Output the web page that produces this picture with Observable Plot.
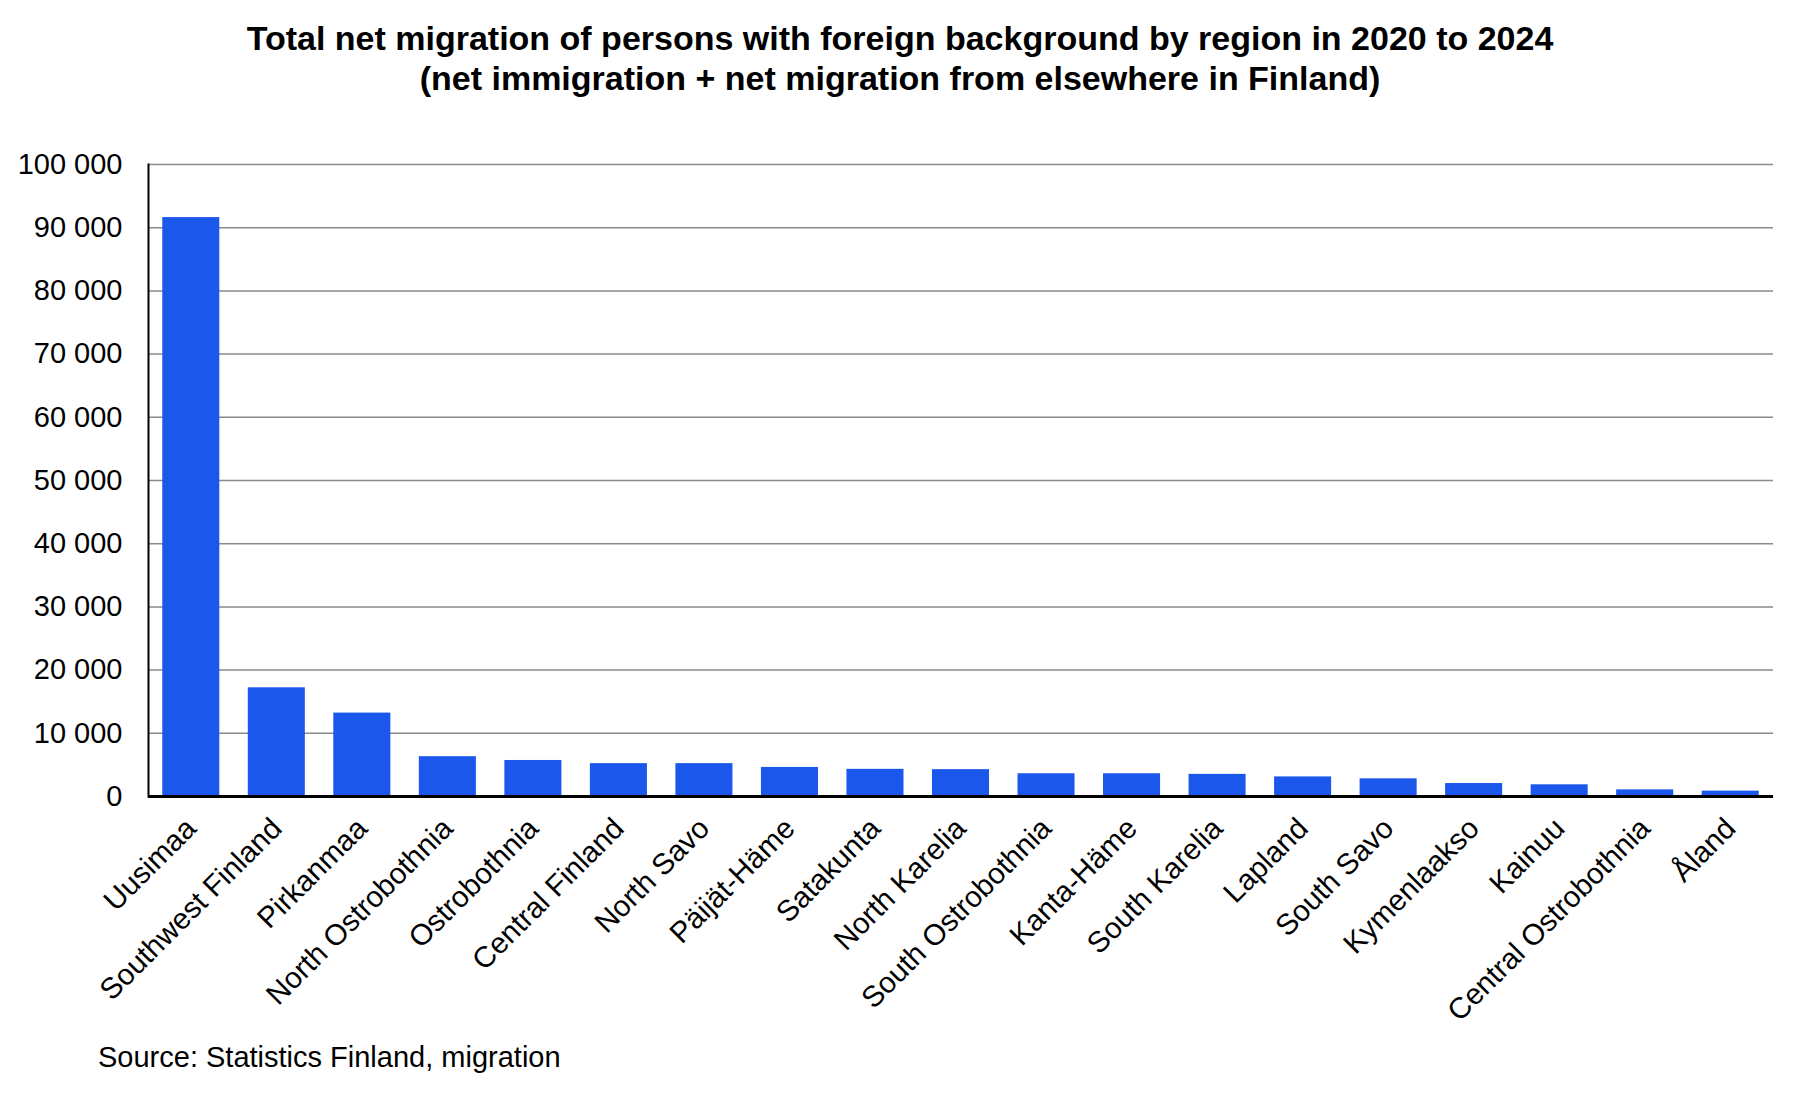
<!DOCTYPE html>
<html>
<head>
<meta charset="utf-8">
<script src="https://cdn.jsdelivr.net/npm/d3@7"></script>
<script src="https://cdn.jsdelivr.net/npm/@observablehq/plot@0.6"></script>
<style>
  html, body { margin: 0; padding: 0; background: #fff; }
  body { width: 1800px; font-family: "Liberation Sans", Arial, sans-serif; color: #000; }
  #title { height: 100px; box-sizing: border-box; padding-top: 18px; text-align: center; font-weight: bold; font-size: 34px; line-height: 40px; }
  #source { margin-top: 0px; padding-left: 98px; font-size: 29px; line-height: 34px; }
</style>
</head>
<body>
<div id="title">Total net migration of persons with foreign background by region in 2020 to 2024<br>(net immigration + net migration from elsewhere in Finland)</div>
<div id="chart"></div>
<div id="source">Source: Statistics Finland, migration</div>
<script>
const regions = ["Uusimaa","Southwest Finland","Pirkanmaa","North Ostrobothnia","Ostrobothnia","Central Finland","North Savo","Päijät-Häme","Satakunta","North Karelia","South Ostrobothnia","Kanta-Häme","South Karelia","Lapland","South Savo","Kymenlaakso","Kainuu","Central Ostrobothnia","Åland"];
const values = [91600,17200,13200,6300,5700,5200,5200,4600,4300,4250,3600,3600,3500,3100,2800,2050,1850,1050,850];
const yTicks = [0,10000,20000,30000,40000,50000,60000,70000,80000,90000,100000];

const data = regions.map((r, i) => ({region: r, value: values[i]}));
const fmt = d => d3.format(",")(d).replace(/,/g, " ");

const chart = Plot.plot({
  width: 1800,
  height: 940,
  marginTop: 64,
  marginBottom: 244,
  marginLeft: 148,
  marginRight: 27,
  style: {fontFamily: "Liberation Sans, Arial, sans-serif", fontSize: "28px", color: "#000", background: "#fff"},
  x: {domain: regions, paddingInner: 0.333, paddingOuter: 0.1667, round: false, label: null},
  y: {domain: [0, 100000], ticks: yTicks, label: null},
  marks: [
    Plot.ruleY(yTicks.filter(d => d > 0), {stroke: "#8a8a8a", strokeWidth: 1.5, strokeOpacity: 1}),
    Plot.barY(data, {x: "region", y: "value", fill: "#1c57eb"}),
    Plot.ruleY([0], {stroke: "#000", strokeWidth: 3}),
    Plot.frame({anchor: "left", stroke: "#000", strokeWidth: 2}),
    Plot.axisY({ticks: yTicks, tickSize: 0, tickPadding: 26, tickFormat: fmt, fontSize: 29, label: null}),
    Plot.axisX({tickSize: 0, tickRotate: -45, tickPadding: 27, fontSize: 29.5, label: null})
  ]
});
document.getElementById("chart").appendChild(chart);
</script>
</body>
</html>
